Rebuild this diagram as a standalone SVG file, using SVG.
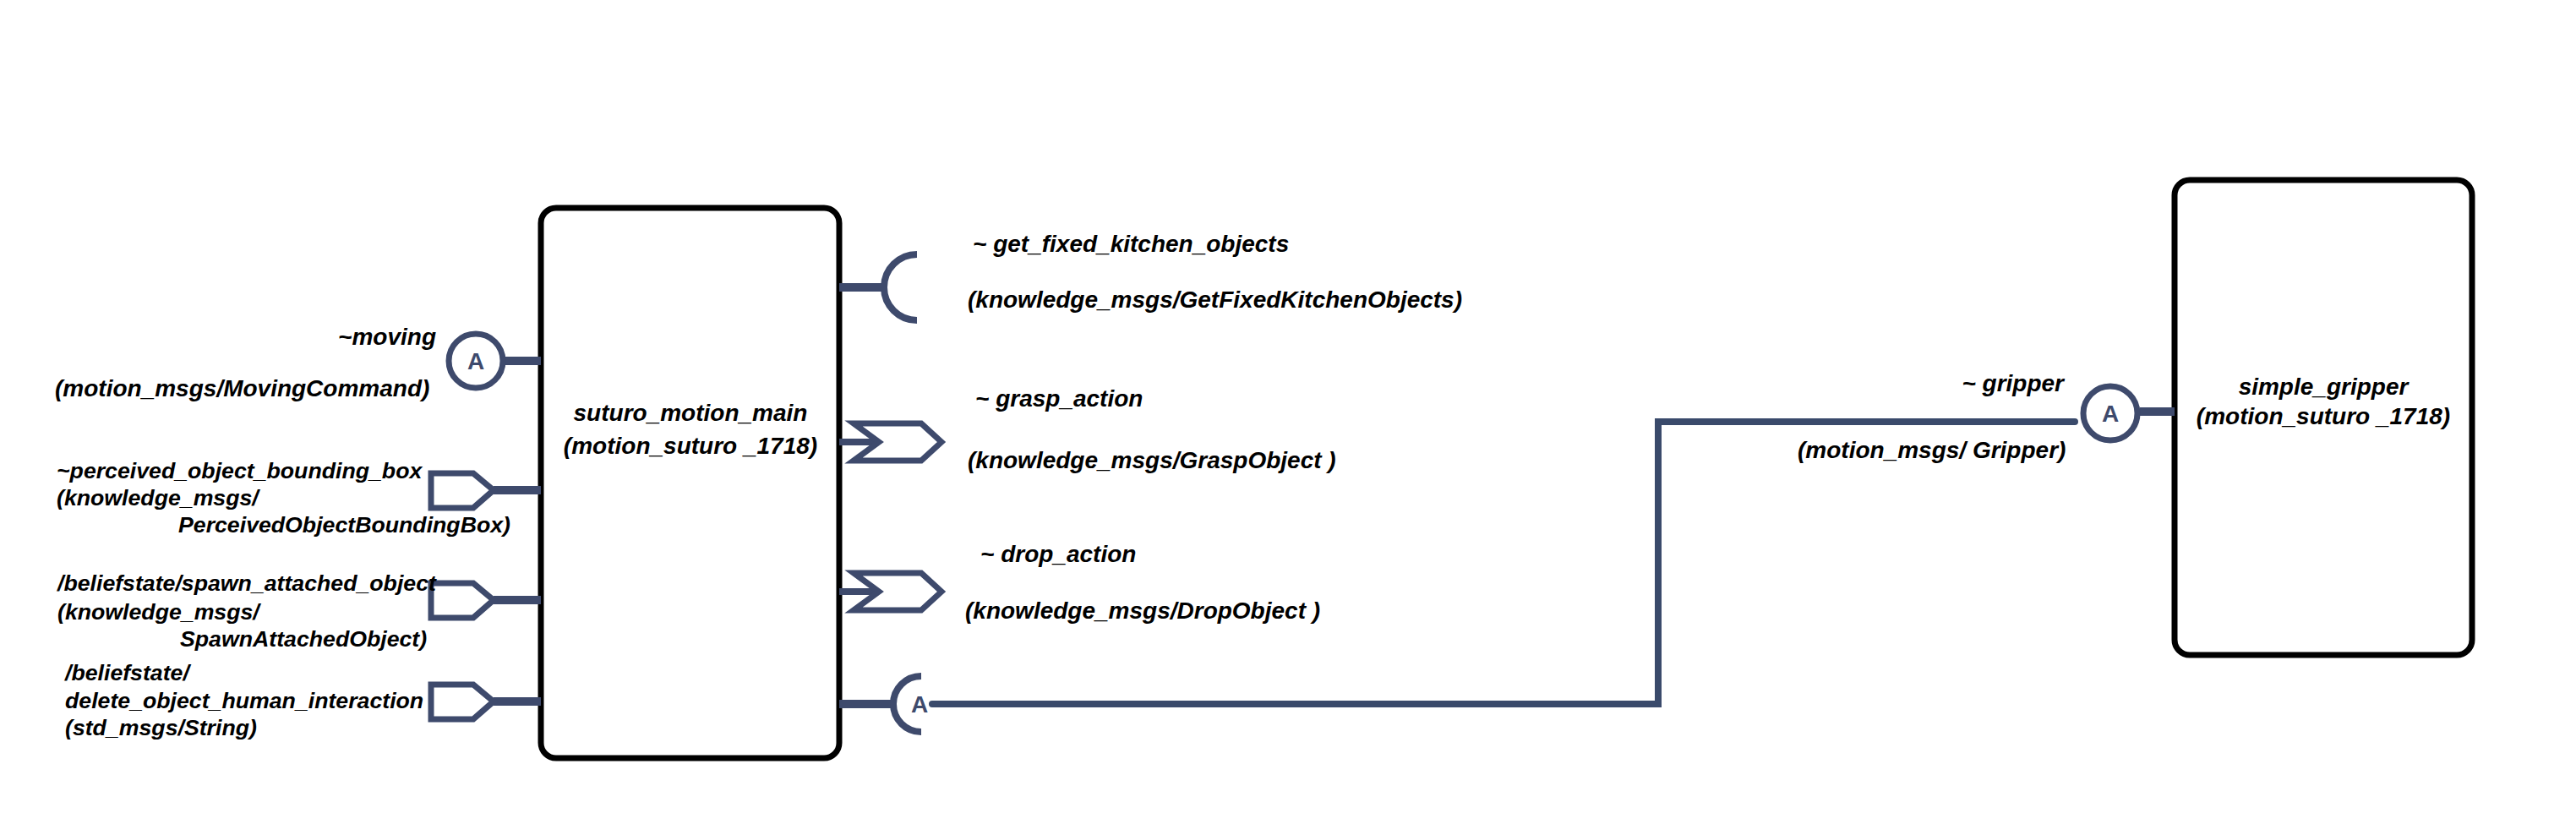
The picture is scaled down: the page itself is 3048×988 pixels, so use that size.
<svg xmlns="http://www.w3.org/2000/svg" width="3048" height="988" viewBox="0 0 3048 988">
<style>
.t{font-family:"Liberation Sans",Arial,sans-serif;font-size:28px;font-weight:bold;font-style:italic;fill:#000}
.s{font-size:26.7px}
.box{fill:#fff;stroke:#000;stroke-width:7}
.port{fill:none;stroke:#3e4a6c;stroke-width:7}
.ring{fill:#fff;stroke:#3e4a6c;stroke-width:7}
.stub{stroke:#3e4a6c;stroke-width:10;fill:none}
.wire{stroke:#3a4a6b;stroke-width:8;fill:none;stroke-linecap:round;stroke-linejoin:miter}
.a{font-family:"Liberation Sans",Arial,sans-serif;font-size:28px;font-weight:bold;fill:#3e4a6c;text-anchor:middle}
.m{text-anchor:middle}
.e{text-anchor:end}
</style>
<rect width="3048" height="988" fill="#fff"/>
<g id="connectors">
<path class="wire" d="M1103,833 L1962,833 L1962,499 L2455,499"/>
</g>
<g id="suturo_motion_main">
<rect class="box" x="640" y="246" width="353" height="651" rx="18"/>
<text class="t m" x="817" y="498">suturo_motion_main</text>
<text class="t m" x="817" y="537">(motion_suturo _1718)</text>
</g>
<g id="simple_gripper">
<rect class="box" x="2573" y="213" width="352" height="562" rx="18"/>
<text class="t m" x="2749" y="467">simple_gripper</text>
<text class="t m" x="2749" y="502">(motion_suturo _1718)</text>
</g>
<g id="port_moving">
<line class="stub" x1="598" y1="427" x2="640" y2="427"/>
<circle class="ring" cx="563" cy="427" r="32"/>
<text class="a" x="563" y="437">A</text>
<text class="t e" x="516" y="408">~moving</text>
<text class="t" x="65" y="469">(motion_msgs/MovingCommand)</text>
</g>
<g id="port_perceived">
<line class="stub" x1="584" y1="580" x2="640" y2="580"/>
<path class="port" d="M510,560 L560,560 L584,580 L560,601 L510,601 Z"/>
<text class="t s" x="67" y="566">~perceived_object_bounding_box</text>
<text class="t s" x="67" y="598">(knowledge_msgs/</text>
<text class="t s" x="211" y="630">PerceivedObjectBoundingBox)</text>
</g>
<g id="port_spawn">
<line class="stub" x1="584" y1="710" x2="640" y2="710"/>
<path class="port" d="M510,690 L560,690 L584,710 L560,731 L510,731 Z"/>
<text class="t s" x="68" y="699">/beliefstate/spawn_attached_object</text>
<text class="t s" x="68" y="733">(knowledge_msgs/</text>
<text class="t s" x="213" y="765">SpawnAttachedObject)</text>
</g>
<g id="port_delete">
<line class="stub" x1="584" y1="830" x2="640" y2="830"/>
<path class="port" d="M510,810 L560,810 L584,830 L560,851 L510,851 Z"/>
<text class="t s" x="77" y="805">/beliefstate/</text>
<text class="t s" x="77" y="838">delete_object_human_interaction</text>
<text class="t s" x="77" y="870">(std_msgs/String)</text>
</g>
<g id="port_get_fixed">
<line class="stub" x1="993" y1="340" x2="1046" y2="340"/>
<path class="port" d="M1085,301 A39,39 0 0 0 1085,379" style="stroke-width:8"/>
<text class="t" x="1151" y="298">~ get_fixed_kitchen_objects</text>
<text class="t" x="1145" y="364">(knowledge_msgs/GetFixedKitchenObjects)</text>
</g>
<g id="port_grasp">
<line class="stub" x1="993" y1="523" x2="1040" y2="523" style="stroke-width:8"/>
<path class="port" d="M1010,501 L1090,501 L1114,523 L1090,545 L1010,545 L1040,523 Z"/>
<text class="t" x="1154" y="481">~ grasp_action</text>
<text class="t" x="1145" y="554">(knowledge_msgs/GraspObject )</text>
</g>
<g id="port_drop">
<line class="stub" x1="993" y1="700" x2="1040" y2="700" style="stroke-width:8"/>
<path class="port" d="M1010,678 L1090,678 L1114,700 L1090,722 L1010,722 L1040,700 Z"/>
<text class="t" x="1160" y="665">~ drop_action</text>
<text class="t" x="1142" y="732">(knowledge_msgs/DropObject )</text>
</g>
<g id="port_gripper_client">
<line class="stub" x1="993" y1="833" x2="1056" y2="833"/>
<path class="port" d="M1090,800 A33,33 0 0 0 1090,866" style="stroke-width:8"/>
<text class="a" x="1088" y="843">A</text>
</g>
<g id="port_gripper">
<line class="stub" x1="2532" y1="487" x2="2573" y2="487"/>
<circle class="ring" cx="2497" cy="489" r="32"/>
<text class="a" x="2497" y="499">A</text>
<text class="t e" x="2442" y="463">~ gripper</text>
<text class="t" x="2127" y="542">(motion_msgs/ Gripper)</text>
</g>
</svg>
